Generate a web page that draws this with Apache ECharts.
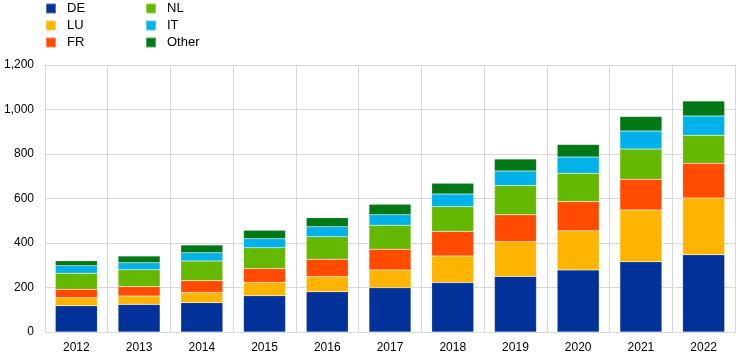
<!DOCTYPE html>
<html>
<head>
<meta charset="utf-8">
<script src="https://cdn.jsdelivr.net/npm/echarts@6/dist/echarts.min.js"></script>
<style>
html,body{margin:0;padding:0;background:#fff;}
#chart{width:744px;height:362px;}
</style>
</head>
<body>
<div id="chart"></div>
<script>
const years = ['2012','2013','2014','2015','2016','2017','2018','2019','2020','2021','2022'];
const DE    = [118, 124, 132, 163, 181, 199, 222, 250, 279, 316, 347];
const LU    = [36,  38,  46,  60,  68,  80,  120, 156, 176, 232, 255];
const FR    = [38,  42,  53,  62,  78,  93,  110, 121, 131, 138, 156];
const NL    = [72,  76,  88,  94,  101, 108, 111, 131, 127, 136, 126];
const IT    = [34,  31,  37,  40,  45,  47,  57,  66,  73,  81,  87];
const Other = [22,  31,  35,  38,  41,  47,  48,  53,  57,  66,  67];
const yTicks = [0, 200, 400, 600, 800, 1000, 1200];

const names = ['DE','LU','FR','NL','IT','Other'];
const values = [DE, LU, FR, NL, IT, Other];
const colors = ['#003299','#FFB400','#FF4B00','#65B800','#00B1EA','#007816'];

const font = '"Liberation Sans", Arial, sans-serif';
const chart = echarts.init(document.getElementById('chart'), null, {renderer:'canvas'});
const legendCommon = {
  orient: 'vertical', top: 2, padding: 0, itemWidth: 10, itemHeight: 10, itemGap: 4,
  icon: 'rect', selectedMode: false,
  textStyle: {fontFamily: font, fontSize: 13, color: '#000', padding: [0,0,0,6]}
};
chart.setOption({
  animation: false,
  color: colors,
  legend: [
    Object.assign({}, legendCommon, {left: 45, data: ['DE','LU','FR']}),
    Object.assign({}, legendCommon, {left: 145, data: ['NL','IT','Other']})
  ],
  grid: {left: 45, right: 9, top: 65, bottom: 30, containLabel: false},
  xAxis: {
    type: 'category', data: years, boundaryGap: true,
    axisLine: {show: true, lineStyle: {color: '#d9d9d9'}},
    axisTick: {show: false},
    splitLine: {show: true, interval: 0, lineStyle: {color: '#d9d9d9', width: 1}},
    axisLabel: {fontFamily: font, fontSize: 12, color: '#000', margin: 10, interval: 0}
  },
  yAxis: {
    type: 'value', min: yTicks[0], max: yTicks[yTicks.length-1], interval: 200,
    axisLine: {show: false}, axisTick: {show: false},
    splitLine: {show: true, lineStyle: {color: '#d9d9d9', width: 1}},
    axisLabel: {fontFamily: font, fontSize: 12, color: '#000', margin: 11,
      formatter: v => v.toLocaleString('en-US')}
  },
  series: names.map((n, i) => ({
    name: n, type: 'bar', stack: 'total', data: values[i],
    barWidth: '67%',
    itemStyle: {color: colors[i], borderColor: 'rgba(255,255,255,0.35)', borderWidth: 0.5}
  }))
});
</script>
</body>
</html>
